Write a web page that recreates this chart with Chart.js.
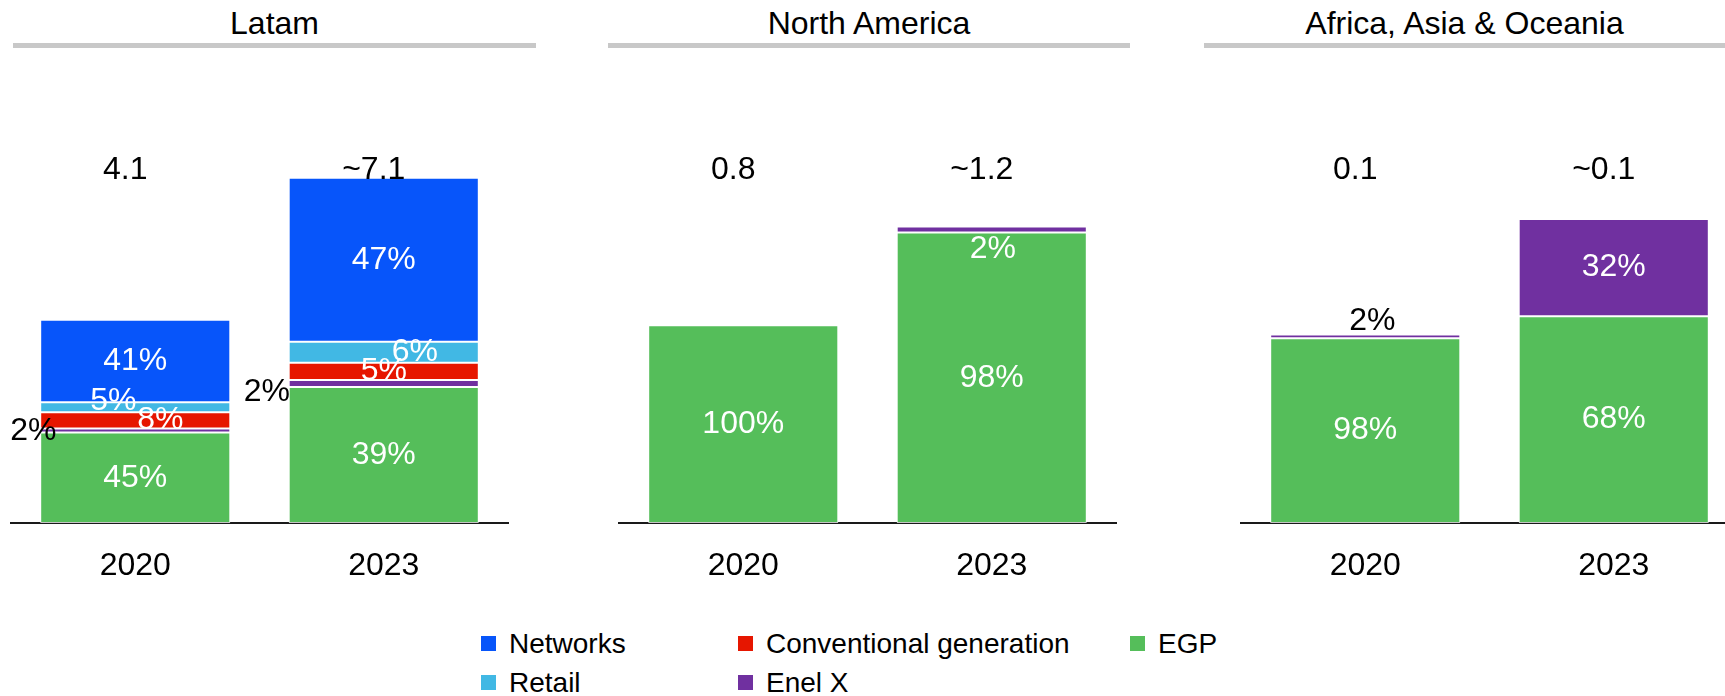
<!DOCTYPE html>
<html>
<head>
<meta charset="utf-8">
<script src="https://cdn.jsdelivr.net/npm/chart.js@4.4.1/dist/chart.umd.min.js"></script>
<style>
  html, body { margin: 0; padding: 0; background: #fff; }
  body { width: 1725px; height: 696px; position: relative; overflow: hidden; font-family: "Liberation Sans", Arial, sans-serif; color: #000; }
  .head { position: absolute; top: 5px; height: 36px; line-height: 36px; font-size: 32px; text-align: center; padding-bottom: 2px; border-bottom: 5px solid #c8c8c8; }
  canvas { position: absolute; top: 60px; }
  #legend { position: absolute; left: 481px; top: 624px; display: grid; grid-template-rows: 39px 39px; grid-auto-flow: column; grid-template-columns: 257px 392px 200px; font-size: 28px; }
  .item { display: flex; align-items: center; white-space: nowrap; }
  .swatch { width: 15px; height: 15px; margin-right: 13px; flex: none; }
</style>
</head>
<body>
<div class="head" style="left:13px;width:523px">Latam</div>
<div class="head" style="left:608px;width:522px">North America</div>
<div class="head" style="left:1204px;width:521px">Africa, Asia &amp; Oceania</div>

<canvas id="c0" width="519" height="523" style="left:0px"></canvas>
<canvas id="c1" width="519" height="523" style="left:608px"></canvas>
<canvas id="c2" width="519" height="523" style="left:1230px"></canvas>

<div id="legend"></div>

<script>
const years = ['2020', '2023'];
const regions = ['Latam', 'North America', 'Africa, Asia & Oceania'];

// bottom to top of each stack
const seriesNames = ['EGP', 'Enel X', 'Conventional generation', 'Retail', 'Networks'];
const seriesColors = ['#55be5a', '#7030a0', '#e61600', '#41b8e4', '#0755fa'];

// capex per region, 2020 and 2023 (bn euro), and the label printed above
const totals = [[4.1, 7.1], [0.8, 1.2], [0.062, 0.1]];
const totalLabels = [['4.1', '~7.1'], ['0.8', '~1.2'], ['0.1', '~0.1']];

// share of each business line, % (region -> [2020, 2023])
const egpShare = [[45, 39], [100, 98], [98, 68]];
const enelXShare = [[2, 2], [0, 2], [2, 32]];
const conventionalShare = [[8, 5], [0, 0], [0, 0]];
const retailShare = [[5, 6], [0, 0], [0, 0]];
const networksShare = [[41, 47], [0, 0], [0, 0]];

const legendOrder = ['Networks', 'Retail', 'Conventional generation', 'Enel X', 'EGP'];

// y axis top for each panel
const yMax = [7.8, 1.55, 0.126];

const shares = [egpShare, enelXShare, conventionalShare, retailShare, networksShare];
const fontFamily = '"Liberation Sans", Arial, sans-serif';

// labels that sit off-centre in the original (region-dataset-year)
const labelNudges = {
  '0-3-0': { dx: -22, dy: -6 },
  '0-2-0': { dx: 25, dy: 0 },
  '0-1-0': { dx: -102, dy: 1, color: '#000' },
  '0-3-1': { dx: 31, dy: 0 },
  '0-1-1': { dx: -117, dy: 9, color: '#000' },
  '1-1-1': { dx: 1, dy: 20 },
  '2-1-0': { dx: 7, dy: -15, color: '#000' }
};

const barLabels = {
  id: 'barLabels',
  afterDatasetsDraw(chart, args, opts) {
    const r = opts.region;
    const ctx = chart.ctx;
    ctx.save();
    ctx.textAlign = 'center';
    ctx.textBaseline = 'middle';
    ctx.font = '32px ' + fontFamily;
    chart.data.datasets.forEach((ds, d) => {
      const meta = chart.getDatasetMeta(d);
      meta.data.forEach((bar, y) => {
        const share = ds.shares[y];
        if (!share) return;
        const n = labelNudges[r + '-' + d + '-' + y] || {};
        ctx.fillStyle = n.color || '#fff';
        ctx.fillText(share + '%', bar.x + (n.dx || 0), (bar.y + bar.base) / 2 + (n.dy || 0));
      });
    });
    ctx.font = '32px ' + fontFamily;
    ctx.fillStyle = '#000';
    years.forEach((yr, y) => {
      const x = chart.scales.x.getPixelForValue(y);
      ctx.fillText(totalLabels[r][y], x - 10, chart.chartArea.top + 30);
    });
    ctx.restore();
  }
};

regions.forEach((name, r) => {
  const datasets = seriesNames.map((s, d) => ({
    label: s,
    shares: shares[d][r],
    data: shares[d][r].map((v, y) => v ? v * totals[r][y] / 100 : null),
    backgroundColor: seriesColors[d],
    borderColor: 'rgba(255,255,255,0.75)',
    borderWidth: 1,
    borderSkipped: false,
    categoryPercentage: 1,
    barPercentage: 0.765
  }));

  new Chart(document.getElementById('c' + r), {
    type: 'bar',
    data: { labels: years, datasets: datasets },
    options: {
      responsive: false,
      animation: false,
      layout: { padding: { left: 11, right: 11, top: 80, bottom: 0 } },
      plugins: {
        legend: { display: false },
        tooltip: { enabled: false },
        barLabels: { region: r }
      },
      scales: {
        x: {
          stacked: true,
          grid: { display: false, drawTicks: false },
          border: { display: true, color: '#1a1a1a', width: 2 },
          ticks: { color: '#000', font: { size: 32, family: fontFamily }, padding: 24 },
          afterFit: (s) => { s.height = 60; }
        },
        y: { stacked: true, display: false, min: 0, max: yMax[r] }
      }
    },
    plugins: [barLabels]
  });
});

// shared legend
const legend = document.getElementById('legend');
legendOrder.forEach((name) => {
  const item = document.createElement('div');
  item.className = 'item';
  const sw = document.createElement('span');
  sw.className = 'swatch';
  sw.style.background = seriesColors[seriesNames.indexOf(name)];
  item.appendChild(sw);
  item.appendChild(document.createTextNode(name));
  legend.appendChild(item);
});
</script>
</body>
</html>
